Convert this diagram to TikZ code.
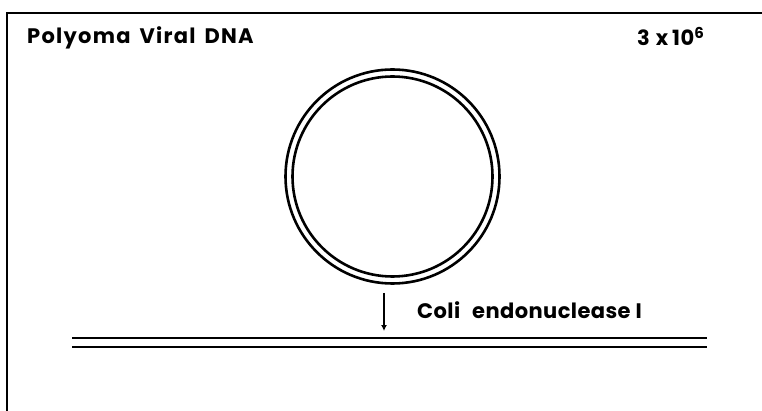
\documentclass[tikz,border=0pt]{standalone}
\usepackage{fontspec}
\setmainfont{Poppins}
\newfontfamily\widefont{Poppins}[LetterSpace=6]
\newfontfamily\plainfont{Poppins}[LetterSpace=2]
\usepackage{tikz}
\usetikzlibrary{arrows.meta}

\tikzset{
  strand/.style={line width=2.6pt},
  label/.style={inner sep=0pt,font=\fontsize{21}{25}\selectfont\bfseries},
}

\begin{document}
\begin{tikzpicture}[x=1pt,y=-1pt]
\useasboundingbox (0,0) rectangle (762,411);
% frame (cut off at right and bottom)
\draw[line width=2.2pt] (7,411) -- (7,13) -- (762,13);
\node[label,anchor=base west] (title) at (27,44)
  {\widefont Polyoma\hspace{9pt}Viral\hspace{9pt}DNA};
\node[label,anchor=base east] (mass) at (704,46)
  {\plainfont 3\hspace{6pt}x\hspace{4pt}10\raisebox{7pt}{\fontsize{15}{18}\selectfont 6}};
% circular duplex
\coordinate (c) at (392.5,176.5);
\draw[strand] (c) circle (107);
\draw[strand] (c) circle (100);
% nicking
\coordinate (a1) at (384,293);
\coordinate (a2) at (384,331);
\draw[line width=1.8pt,-{Latex[length=6pt,width=6pt]}] (a1) -- (a2);
\node[label,anchor=base west] (enzyme) at (417,318) {\plainfont Coli\hspace{12pt}endonuclease I};
% linear duplex
\draw[strand] (72,338) -- (707,338);
\draw[strand] (72,347) -- (707,347);
\end{tikzpicture}
\end{document}
